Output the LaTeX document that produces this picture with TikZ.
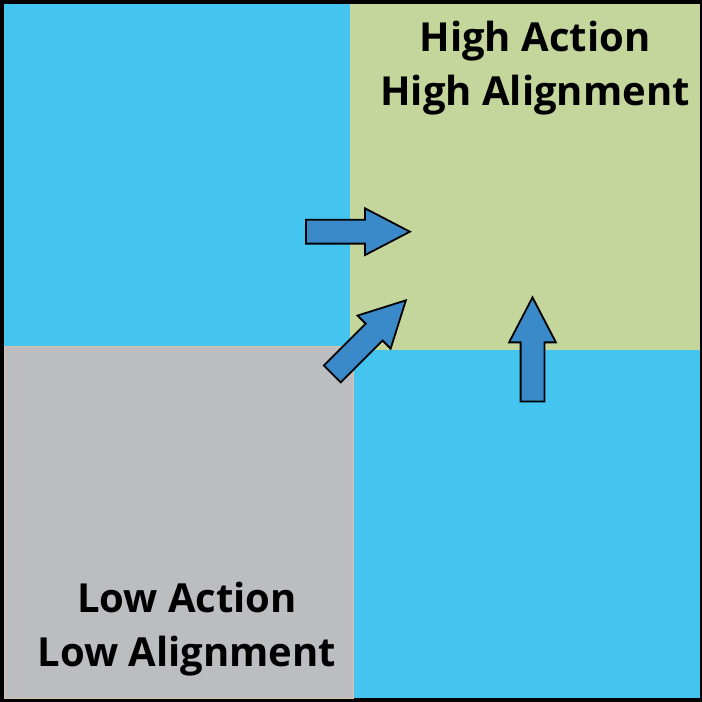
\documentclass[tikz,border=0pt]{standalone}
\usepackage{fontspec}
\setmainfont{Open Sans}
\usetikzlibrary{shapes.arrows}

\definecolor{skyblue}{HTML}{43C5EF}
\definecolor{leafgreen}{HTML}{C4D69B}
\definecolor{stonegray}{HTML}{BCBDC1}
\definecolor{sandedge}{HTML}{D8C2A6}
\definecolor{arrowblue}{HTML}{3A89C9}

\tikzset{
  blockarrow/.style={single arrow, draw=black, line width=1.8pt, fill=arrowblue,
    minimum height=104pt, inner xsep=0pt, inner ysep=11pt, anchor=tail,
    single arrow head extend=11.5pt, single arrow tip angle=55},
  quadtext/.style={font=\fontsize{40}{55}\selectfont\bfseries, anchor=base, inner sep=0pt}
}

\begin{document}
\begin{tikzpicture}[x=1pt,y=-1pt]
    \useasboundingbox (0,0) rectangle (702,702);
    %frame and background
    \fill[black] (0,0) rectangle (702,702);
    \fill[skyblue] (4,4) rectangle (700,698);
    %quadrants
    \fill[leafgreen] (350,4) rectangle (700,350);
    \draw[sandedge, fill=stonegray, line width=0.8pt] (4,346) rectangle (353,698);

    %labels
    \node[quadtext] (high1) at (535,51.7) {High Action};
    \node[quadtext] (high2) at (535,105.5) {High Alignment};
    \node[quadtext] (low1) at (187,612) {Low Action};
    \node[quadtext] (low2) at (187,666.7) {Low Alignment};

    %arrows
    \node[blockarrow] (right) at (305,231.7) {};
    \node[blockarrow, rotate=45] (diag) at (331.7,374.5) {};
    \node[blockarrow, rotate=90] (up) at (532.5,402.3) {};
\end{tikzpicture}
\end{document}
